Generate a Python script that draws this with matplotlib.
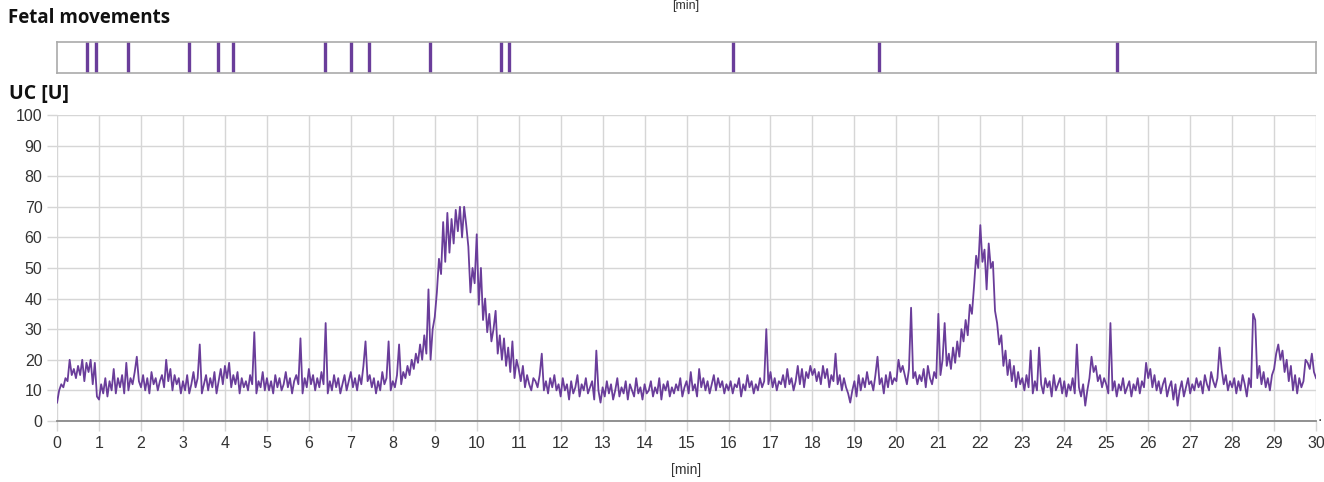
import numpy as np
import matplotlib
matplotlib.use("Agg")
import matplotlib.pyplot as plt

# fetal movement marks [min]
movements = [0.71, 0.93, 1.69, 3.15, 3.84, 4.19, 6.39, 7.00, 7.43, 8.89,
             10.58, 10.77, 16.11, 19.59, 25.26]

# UC trace, 20 samples per minute (one row per minute), last value at 30 min
uc_rows = [
    [6, 10, 12, 11, 14, 13, 20, 15, 17, 14, 18, 15, 20, 13, 19, 16, 20, 12, 19, 8],
    [7, 12, 9, 14, 8, 13, 10, 17, 9, 14, 11, 15, 9, 19, 10, 14, 12, 16, 21, 13],
    [11, 15, 10, 14, 9, 16, 12, 14, 10, 13, 15, 11, 20, 13, 17, 10, 15, 12, 14, 9],
    [13, 10, 15, 9, 12, 16, 11, 14, 25, 9, 12, 15, 10, 14, 11, 16, 9, 13, 17, 12],
    [18, 14, 19, 11, 15, 12, 16, 9, 14, 11, 13, 10, 15, 12, 29, 9, 13, 11, 16, 10],
    [14, 10, 13, 9, 15, 11, 14, 10, 12, 16, 11, 14, 9, 13, 15, 12, 27, 9, 14, 11],
    [17, 12, 15, 10, 14, 11, 16, 12, 32, 9, 13, 10, 15, 11, 14, 9, 12, 15, 10, 13],
    [16, 11, 14, 10, 15, 12, 18, 26, 13, 15, 11, 14, 9, 13, 10, 16, 12, 14, 26, 10],
    [13, 11, 15, 25, 12, 16, 14, 18, 15, 20, 17, 22, 19, 25, 20, 28, 22, 43, 20, 30],
    [34, 42, 53, 48, 65, 52, 68, 55, 66, 58, 69, 62, 70, 60, 70, 64, 57, 42, 50, 45],
    [61, 38, 50, 33, 40, 29, 35, 26, 30, 36, 22, 28, 20, 27, 18, 24, 16, 26, 14, 20],
    [17, 13, 18, 11, 15, 12, 10, 14, 13, 11, 15, 22, 10, 13, 9, 14, 11, 15, 10, 12],
    [8, 14, 10, 12, 7, 13, 9, 11, 15, 8, 12, 10, 14, 9, 11, 13, 7, 23, 10, 6],
    [11, 8, 13, 9, 12, 7, 10, 14, 8, 11, 9, 13, 7, 12, 10, 8, 14, 9, 11, 7],
    [12, 9, 10, 13, 8, 11, 9, 14, 7, 12, 10, 13, 8, 11, 9, 12, 10, 14, 8, 11],
    [13, 9, 16, 10, 12, 8, 17, 11, 14, 10, 13, 9, 12, 15, 10, 14, 11, 13, 9, 12],
    [10, 13, 9, 12, 11, 14, 8, 12, 10, 15, 11, 13, 9, 12, 10, 14, 11, 13, 30, 12],
    [16, 11, 14, 10, 13, 12, 15, 11, 17, 12, 14, 10, 13, 18, 12, 17, 11, 16, 14, 18],
    [15, 17, 13, 16, 12, 18, 14, 17, 11, 15, 13, 22, 12, 15, 10, 14, 11, 9, 6, 10],
    [13, 8, 15, 10, 14, 11, 16, 12, 13, 10, 15, 21, 12, 14, 9, 15, 11, 16, 12, 14],
    [13, 20, 16, 18, 15, 12, 17, 37, 14, 16, 12, 15, 13, 17, 11, 18, 14, 12, 16, 14],
    [35, 15, 20, 32, 18, 22, 17, 24, 19, 26, 21, 30, 26, 33, 28, 38, 35, 44, 54, 50],
    [64, 52, 56, 43, 58, 50, 52, 36, 32, 25, 28, 18, 23, 15, 20, 13, 18, 11, 16, 12],
    [14, 10, 15, 11, 23, 9, 13, 10, 24, 12, 9, 14, 11, 13, 8, 15, 10, 12, 14, 9],
    [13, 8, 12, 10, 14, 9, 25, 11, 8, 12, 5, 10, 14, 21, 16, 18, 13, 15, 11, 14],
    [12, 9, 32, 10, 13, 8, 12, 10, 14, 9, 11, 13, 8, 12, 10, 14, 9, 13, 11, 19],
    [14, 17, 11, 15, 10, 13, 9, 12, 14, 8, 11, 13, 7, 12, 5, 10, 13, 8, 11, 14],
    [9, 12, 10, 14, 11, 13, 9, 15, 12, 10, 16, 13, 11, 14, 24, 17, 12, 15, 10, 13],
    [11, 14, 9, 13, 10, 15, 12, 8, 14, 11, 35, 33, 14, 18, 12, 16, 11, 14, 10, 15],
    [17, 22, 25, 20, 23, 16, 20, 13, 18, 10, 15, 9, 14, 11, 13, 20, 19, 17, 22, 16],
    [14],
]
uc = np.concatenate([np.array(r, dtype=float) for r in uc_rows])
t = np.linspace(0, 30, len(uc))

x_ticks = list(range(0, 31))
y_ticks = list(range(0, 101, 10))

purple = "#6a3d9a"
grid_c = "#d6d6d6"
txt_c = "#333333"

fig = plt.figure(figsize=(13.24, 4.82), dpi=100)

# movements strip
axm = fig.add_axes([0.0431, 0.8485, 0.9509, 0.0643])
for m in movements:
    axm.axvline(m, color=purple, lw=2.4)
axm.set_xlim(0, 30)
axm.set_ylim(0, 1)
axm.set_xticks([])
axm.set_yticks([])
for s in axm.spines.values():
    s.set_color("#aaaaaa")
    s.set_linewidth(1.2)

# UC trace
ax = fig.add_axes([0.0431, 0.1266, 0.9509, 0.6349])
ax.plot(t, uc, color=purple, lw=1.3)
ax.set_xlim(0, 30)
ax.set_ylim(0, 100)
ax.set_xticks(x_ticks)
ax.set_yticks(y_ticks)
ax.grid(True, color=grid_c, lw=1)
ax.set_axisbelow(True)
for s in ["top", "right", "left"]:
    ax.spines[s].set_visible(False)
ax.spines["bottom"].set_color("#888888")
ax.spines["bottom"].set_linewidth(1.3)
ax.tick_params(axis="both", colors=grid_c, labelcolor=txt_c, labelsize=11.5,
               length=7, width=1)
for lab in ax.get_xticklabels() + ax.get_yticklabels():
    lab.set_fontfamily("Liberation Sans")

fig.text(0.006, 0.962, "Fetal movements", fontsize=13.5, fontweight="bold",
         family="Open Sans", va="center", color="#111111")
fig.text(0.007, 0.806, "UC [U]", fontsize=14, fontweight="bold",
         family="Open Sans", va="center", color="#111111")
fig.text(0.518, 0.025, "[min]", fontsize=10, family="Liberation Sans",
         ha="center", va="center", color=txt_c)
# label at the top edge (from the panel above in the reference)
fig.text(0.518, 0.999, "[min]", fontsize=9, family="Liberation Sans",
         ha="center", va="top", color=txt_c)
fig.text(0.9965, 0.127, ".", fontsize=10, color="#333333", ha="center")

plt.savefig("out.png", dpi=100)
plt.close()
